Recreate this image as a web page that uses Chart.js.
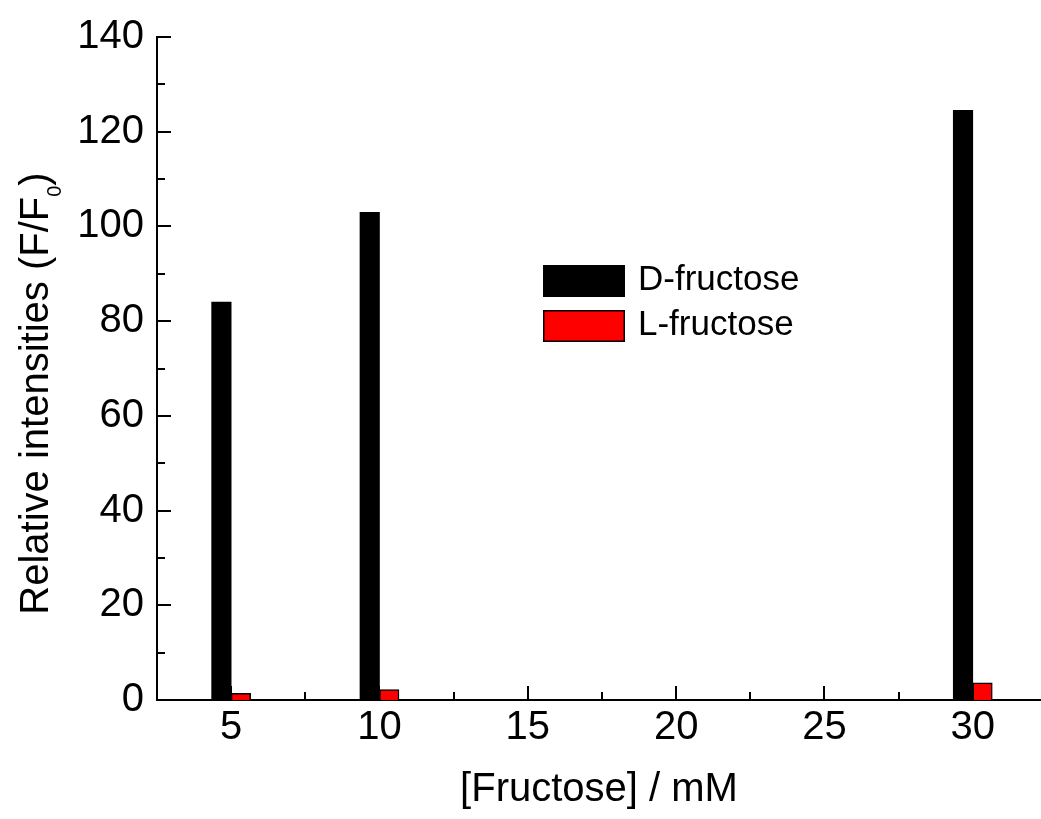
<!DOCTYPE html>
<html>
<head>
<meta charset="utf-8">
<script src="https://cdn.jsdelivr.net/npm/chart.js@4"></script>
<style>
  html, body { margin: 0; padding: 0; background: #fff; }
  #wrap { width: 1041px; height: 819px; }
</style>
</head>
<body>
<div id="wrap"><canvas id="chart" width="1041" height="819"></canvas></div>
<script>
// values
const CONC = [5, 10, 30];
const D_FRUCTOSE = [84, 103, 124.5];
const L_FRUCTOSE = [1.4, 2.2, 3.6];
const X_TICKS = [5, 10, 15, 20, 25, 30];
const Y_TICKS = [0, 20, 40, 60, 80, 100, 120, 140];

const FONT = '"Liberation Sans", Arial, sans-serif';

// inward major / minor ticks, drawn through the scales
const innerTicks = {
  id: "innerTicks",
  afterDraw(chart) {
    const { ctx, chartArea: a, scales } = chart;
    ctx.save();
    ctx.strokeStyle = "#000";
    ctx.lineWidth = 2;
    ctx.beginPath();
    for (let v = 0; v <= 140; v += 10) {
      const y = Math.round(scales.y.getPixelForValue(v));
      const len = v % 20 === 0 ? 14 : 8;
      ctx.moveTo(a.left, y);
      ctx.lineTo(a.left + len, y);
    }
    for (let v = 2.5; v <= scales.x.max; v += 2.5) {
      if (v <= scales.x.min) continue;
      const x = Math.round(scales.x.getPixelForValue(v));
      const len = v % 5 === 0 ? 14 : 8;
      ctx.moveTo(x, a.bottom);
      ctx.lineTo(x, a.bottom - len);
    }
    ctx.stroke();
    ctx.restore();
  },
};

// y title with subscript F0
const yTitle = {
  id: "yTitle",
  afterDraw(chart) {
    const { ctx, chartArea: a } = chart;
    const main = "Relative intensities (F/F";
    const big = "40px " + FONT;
    const small = "20px " + FONT;
    ctx.save();
    ctx.fillStyle = "#000";
    ctx.font = big;
    const w1 = ctx.measureText(main).width;
    const w3 = ctx.measureText(")").width;
    ctx.font = small;
    const w2 = ctx.measureText("0").width;
    const total = w1 + w2 + w3;
    ctx.translate(48, (a.top + a.bottom) / 2 + 25);
    ctx.rotate(-Math.PI / 2);
    ctx.textBaseline = "alphabetic";
    ctx.textAlign = "left";
    let x = -total / 2;
    ctx.font = big;
    ctx.fillText(main, x, 0);
    x += w1;
    ctx.font = small;
    ctx.fillText("0", x, 13);
    x += w2;
    ctx.font = big;
    ctx.fillText(")", x, 0);
    ctx.restore();
  },
};

// legend box inside the plot
const boxLegend = {
  id: "boxLegend",
  afterDraw(chart) {
    const { ctx, chartArea: a } = chart;
    const x0 = a.left + 386;
    let y0 = a.top + 228;
    ctx.save();
    ctx.font = "35px " + FONT;
    ctx.textBaseline = "middle";
    ctx.textAlign = "left";
    chart.data.datasets.forEach((ds) => {
      ctx.fillStyle = ds.backgroundColor;
      ctx.fillRect(x0, y0, 82, 32);
      ctx.strokeStyle = "#000";
      ctx.lineWidth = 1.5;
      ctx.strokeRect(x0 + 0.75, y0 + 0.75, 80.5, 30.5);
      ctx.fillStyle = "#000";
      ctx.fillText(ds.label, x0 + 95, y0 + 15);
      y0 += 45;
    });
    ctx.restore();
  },
};

new Chart(document.getElementById("chart"), {
  type: "bar",
  data: {
    datasets: [
      {
        label: "D-fructose",
        data: CONC.map((x, i) => ({ x, y: D_FRUCTOSE[i] })),
        backgroundColor: "#000000",
        borderWidth: 0,
      },
      {
        label: "L-fructose",
        data: CONC.map((x, i) => ({ x, y: L_FRUCTOSE[i] })),
        backgroundColor: "#ff0000",
        borderColor: "#000000",
        borderWidth: 1.5,
      },
    ],
  },
  options: {
    responsive: false,
    animation: false,
    barThickness: 19.5,
    layout: { padding: { top: 35, right: 0, bottom: 0, left: 0 } },
    plugins: {
      legend: { display: false },
      tooltip: { enabled: false },
    },
    scales: {
      x: {
        type: "linear",
        offset: false,
        min: 2.5,
        max: 32.3,
        afterBuildTicks: (s) => { s.ticks = X_TICKS.map((v) => ({ value: v })); },
        afterFit: (s) => { s.height = 119; },
        grid: { display: false, drawTicks: false, offset: false },
        border: { display: true, color: "#000", width: 2 },
        ticks: {
          color: "#000",
          padding: 4,
          maxRotation: 0,
          font: { family: FONT, size: 40 },
        },
        title: {
          display: true,
          text: "[Fructose] / mM",
          color: "#000",
          padding: { top: 0, bottom: 5 },
          font: { family: FONT, size: 40 },
        },
      },
      y: {
        min: 0,
        max: 140,
        afterBuildTicks: (s) => { s.ticks = Y_TICKS.map((v) => ({ value: v })); },
        afterFit: (s) => { s.width = 157; },
        grid: { display: false, drawTicks: false },
        border: { display: true, color: "#000", width: 2 },
        ticks: {
          color: "#000",
          padding: 13,
          font: { family: FONT, size: 40 },
        },
      },
    },
  },
  plugins: [innerTicks, yTitle, boxLegend],
});
</script>
</body>
</html>
